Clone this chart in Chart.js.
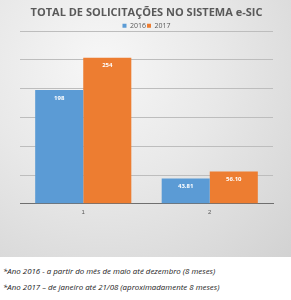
<!DOCTYPE html>
<html>
<head>
<meta charset="utf-8">
<script src="https://cdn.jsdelivr.net/npm/chart.js@4"></script>
<style>
  html, body { margin: 0; padding: 0; background: #fff; }
  body { width: 291px; height: 300px; overflow: hidden; font-family: "Open Sans", "Noto Sans", sans-serif; }
  #panel {
    width: 291px; height: 257px; position: relative;
    background: radial-gradient(ellipse at 35% 25%, #f7f7f7 0%, #e8e8e8 45%, #d2d2d2 100%);
  }
  .note { font-style: italic; font-size: 7.9px; color: #222; margin: 0; padding-left: 3px; position: absolute; }
</style>
</head>
<body>
<div id="panel"><canvas id="myChart" width="291" height="257"></canvas></div>
<p class="note" style="top:266px">*Ano 2016 - a partir do mês de maio até dezembro (8 meses)</p>
<p class="note" style="top:282px">*Ano 2017 – de janeiro até 21/08 (aproximadamente 8 meses)</p>
<script>
"use strict";

// chart data
const categories = ["1", "2"];
const series2016 = [198, 43.81];
const series2017 = [254, 56.10];
const seriesNames = ["2016", "2017"];
const valueLabels2016 = ["198", "43.81"];
const valueLabels2017 = ["254", "56.10"];

// labels drawn inside the top of each bar
const insideEndLabels = {
    id: "insideEndLabels",
    afterDatasetsDraw(chart) {
        const ctx = chart.ctx;
        const texts = [valueLabels2016, valueLabels2017];
        ctx.save();
        ctx.fillStyle = "#ffffff";
        ctx.font = "bold 6px 'Open Sans', sans-serif";
        ctx.textAlign = "center";
        ctx.textBaseline = "middle";
        chart.data.datasets.forEach(function(ds, i) {
            chart.getDatasetMeta(i).data.forEach(function(bar, j) {
                ctx.fillText(texts[i][j], bar.x, bar.y + 8);
            });
        });
        ctx.restore();
    }
};

var ctx = document.getElementById("myChart").getContext("2d");
new Chart(ctx, {
    type: "bar",
    data: {
        labels: categories,
        datasets: [
            {
                label: seriesNames[0],
                backgroundColor: "#5b9bd5",
                data: series2016
            },
            {
                label: seriesNames[1],
                backgroundColor: "#ed7d31",
                data: series2017
            }
        ]
    },
    options: {
        responsive: false,
        animation: false,
        categoryPercentage: 0.76,
        barPercentage: 1.0,
        layout: { padding: { left: 20, right: 18, top: 0, bottom: 36 } },
        plugins: {
            title: {
                display: true,
                text: "TOTAL DE SOLICITAÇÕES NO SISTEMA e-SIC",
                color: "#595959",
                font: { family: "'Open Sans', sans-serif", size: 11, weight: "bold" },
                padding: { top: 6, bottom: 2 }
            },
            legend: {
                maxHeight: 10,
                labels: {
                    color: "#595959",
                    boxWidth: 4,
                    boxHeight: 4,
                    padding: 1,
                    font: { family: "'Open Sans', sans-serif", size: 7 }
                }
            },
            tooltip: { enabled: false }
        },
        scales: {
            x: {
                grid: { display: false, drawTicks: false },
                border: { color: "#6f6f6f", width: 1 },
                ticks: { color: "#595959", font: { size: 6 }, padding: 5 }
            },
            y: {
                min: 0,
                max: 300,
                ticks: { display: false, stepSize: 50 },
                grid: { color: "#bdbdbd", drawTicks: false },
                border: { display: false }
            }
        }
    },
    plugins: [insideEndLabels]
});
</script>
</body>
</html>
